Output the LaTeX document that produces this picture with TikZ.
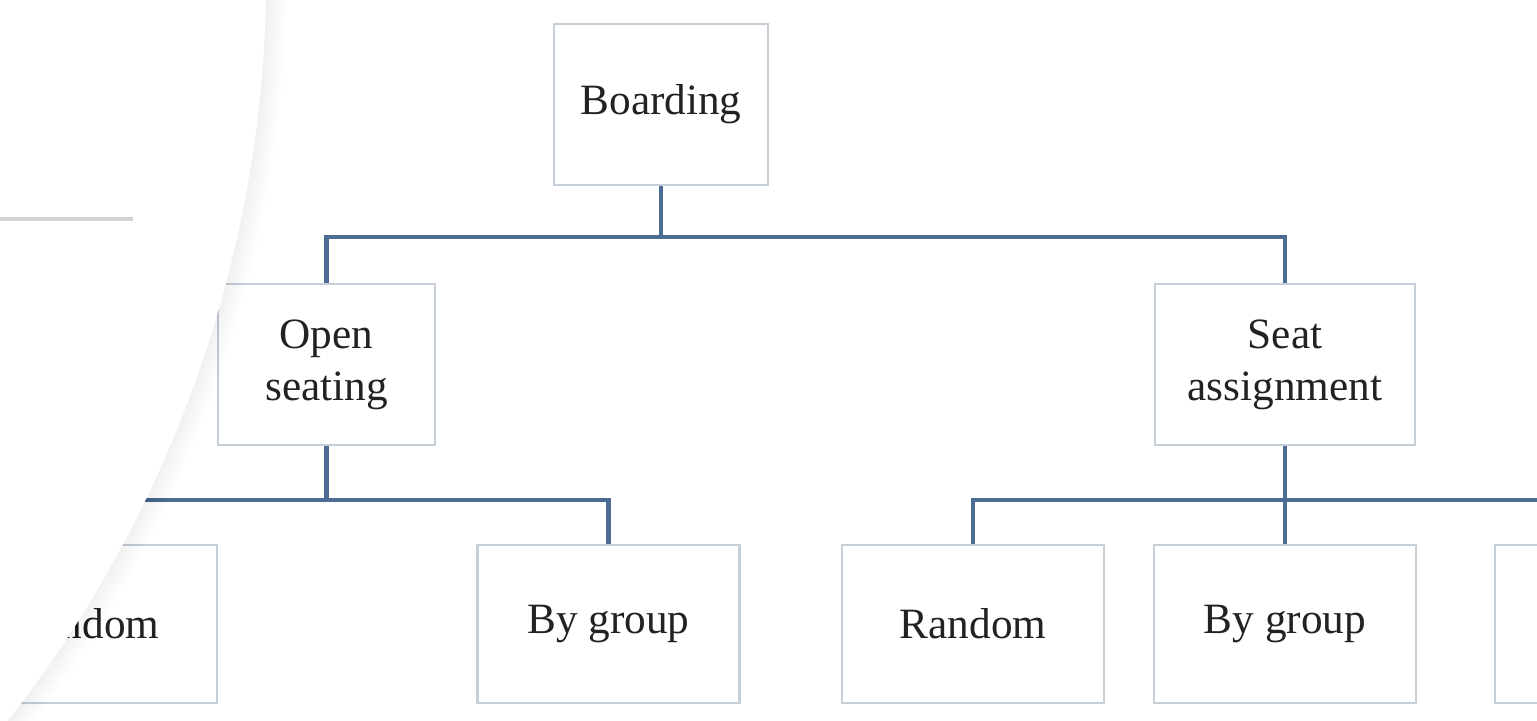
\documentclass[tikz,border=0pt]{standalone}
\usepackage{fontspec}
\setmainfont{Liberation Serif}
\definecolor{conncol}{RGB}{76,108,148}
\definecolor{boxcol}{RGB}{198,206,216}
\definecolor{txtcol}{RGB}{34,34,34}
\definecolor{barcol}{RGB}{211,211,211}
\begin{document}
\begin{tikzpicture}[x=0.01cm,y=-0.01cm,
  box/.style={draw=boxcol, line width=0.7pt, fill=white, text=txtcol, align=center,
    inner sep=0pt, font=\fontsize{12.3}{14.8}\selectfont},
  midbox/.style={box, minimum height=1.61cm},
  lowbox/.style={box, minimum height=1.58cm, minimum width=2.62cm},
  conn/.style={draw=conncol, line width=1.25pt, line join=miter}]
\clip (0,0) rectangle (1537,720);
\fill[white] (0,0) rectangle (1537,720);
% nodes
\node[midbox, minimum width=2.14cm] (board) at (661,104.5) {Boarding};
\node[midbox, minimum width=2.17cm] (open) at (326.5,364.5) {Open\\seating};
\node[midbox, minimum width=2.60cm] (seat) at (1285,364.5) {Seat\\assignment};
\node[lowbox] (rand1) at (86,624) {Random};
\node[lowbox] (grp1) at (608.5,624) {By group};
\node[lowbox] (rand2) at (973,624) {Random};
\node[lowbox] (grp2) at (1285,624) {By group};
\node[lowbox] (third) at (1626,624) {};
% bus levels
\coordinate (bus1) at (0,237);
\coordinate (bus2) at (0,500);
% connectors
\draw[conn] (board.south) -- (board.south |- bus1);
\draw[conn] (open.north) |- (seat.north |- bus1) -- (seat.north);
\draw[conn] (open.south) -- (open.south |- bus2);
\draw[conn] (rand1.north) |- (grp1.north |- bus2) -- (grp1.north);
\draw[conn] (seat.south) -- (grp2.north);
\draw[conn] (rand2.north) |- (third.north |- bus2) -- (third.north);
% white overlay (large circular arc) with soft shadow
\foreach \i in {1,...,14}
  \draw[black, opacity=0.005, line width=\i*0.03cm]
    plot[domain=-2:40, samples=60] ({-943.6+1210*cos(\x)}, {-26.9+1210*sin(\x)});
\fill[white] (-20,-80) -- plot[domain=-2:40, samples=60] ({-943.6+1210*cos(\x)}, {-26.9+1210*sin(\x)}) -- (-20,800) -- cycle;
\fill[barcol] (0,216.5) rectangle (133,220.5);
\end{tikzpicture}
\end{document}
